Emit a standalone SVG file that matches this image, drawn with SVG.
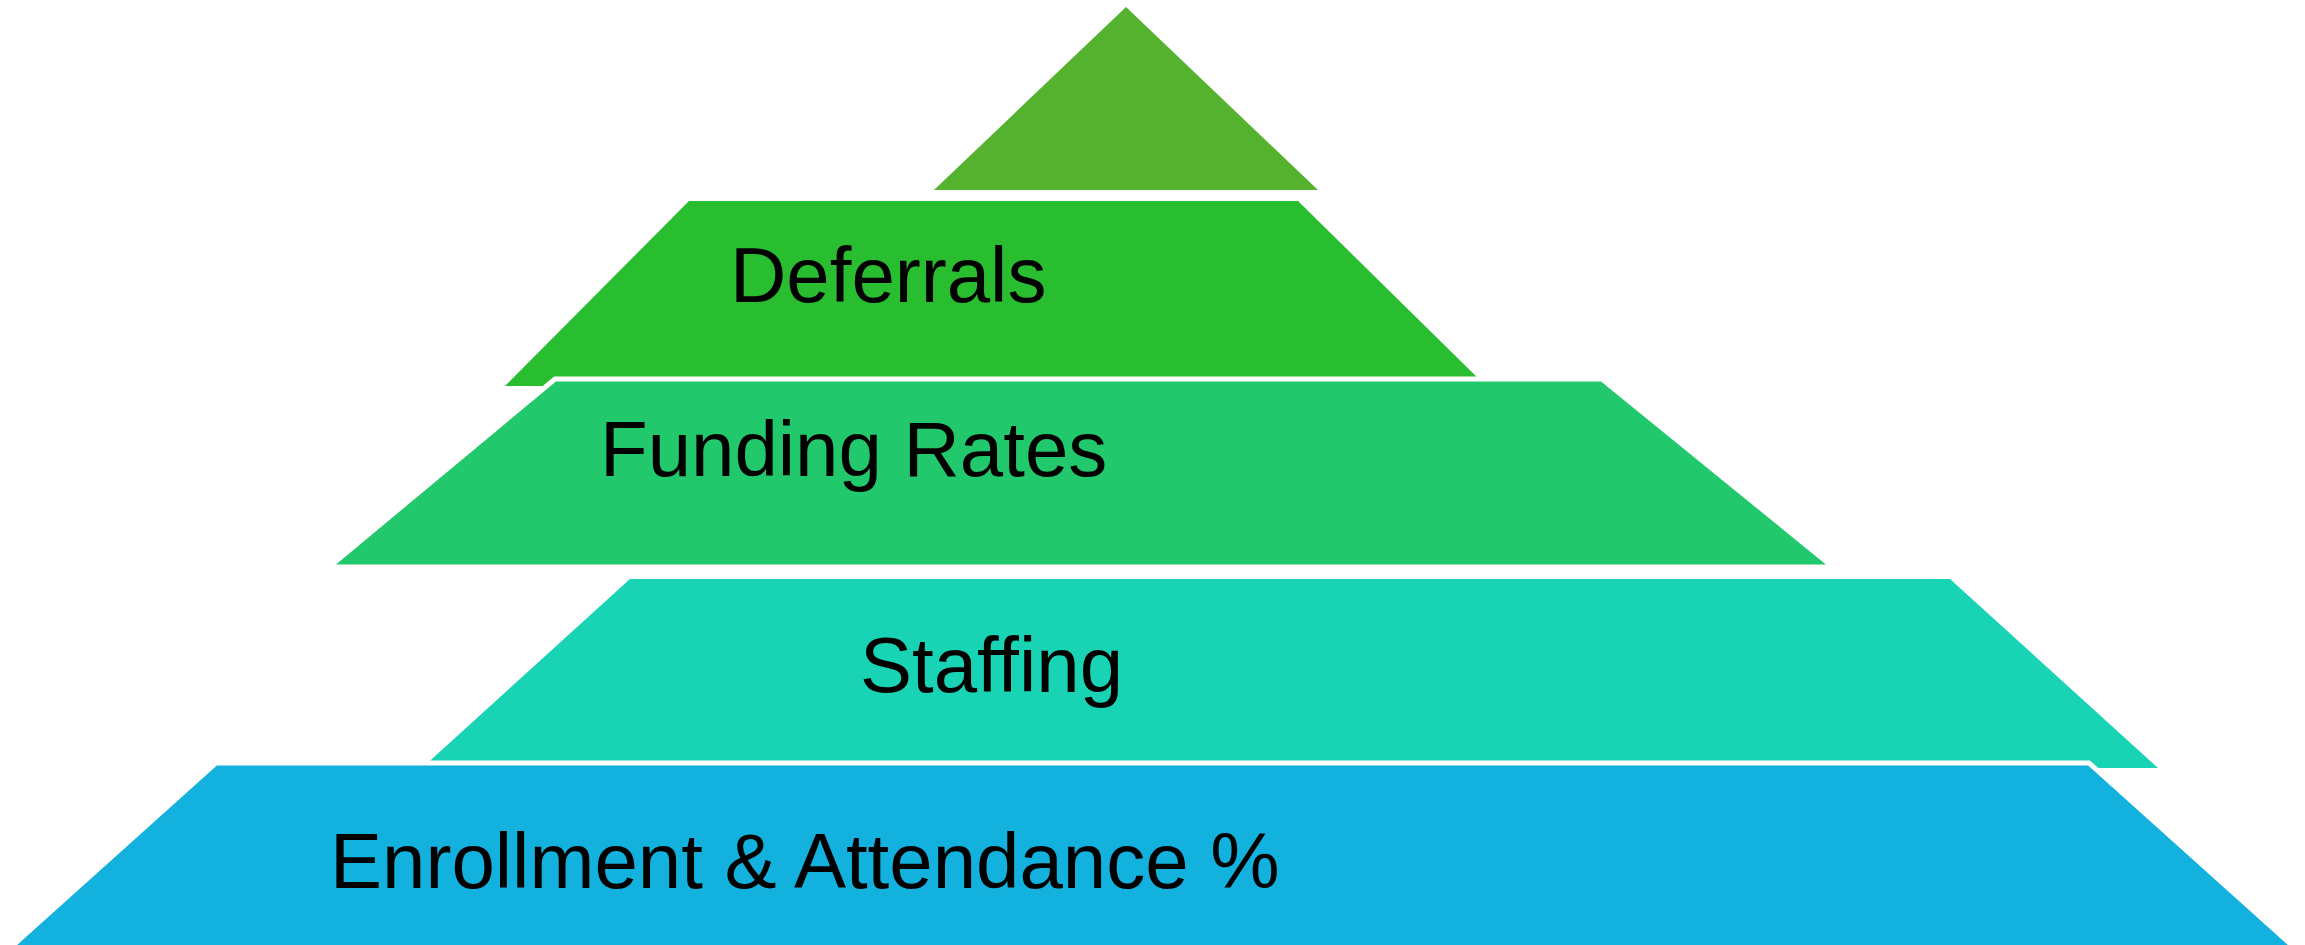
<svg xmlns="http://www.w3.org/2000/svg" width="2305" height="945" viewBox="0 0 2305 945">
<style>
.lbl{font-family:"Liberation Sans",Arial,sans-serif;font-size:78px;fill:#000}
.edge{stroke:#fff;stroke-width:5;stroke-linejoin:miter}
</style>
<rect width="2305" height="945" fill="#fff"/>
<g id="connectors"></g>
<g id="layer-top"><polygon points="1126,7 1318,190 934,190" fill="#55B22F"/></g>
<g id="layer-deferrals"><polygon points="689,201 1298,201 1486,386 505,386" fill="#29BD30"/><text class="lbl" x="730" y="302">Deferrals</text></g>
<g id="layer-funding"><polygon class="edge" points="555,379 1602,379 1833,567 329,567" fill="#21C96C"/><text class="lbl" x="600" y="476">Funding Rates</text></g>
<g id="layer-staffing"><polygon points="630,579 1950,579 2158,768 422,768" fill="#18D4B5"/><text class="lbl" x="860" y="692">Staffing</text></g>
<g id="layer-enrollment"><polygon class="edge" points="216,763 2089,763 2295,948 10,948" fill="#13B1DE"/><text class="lbl" x="330" y="888">Enrollment &amp; Attendance %</text></g>
</svg>
